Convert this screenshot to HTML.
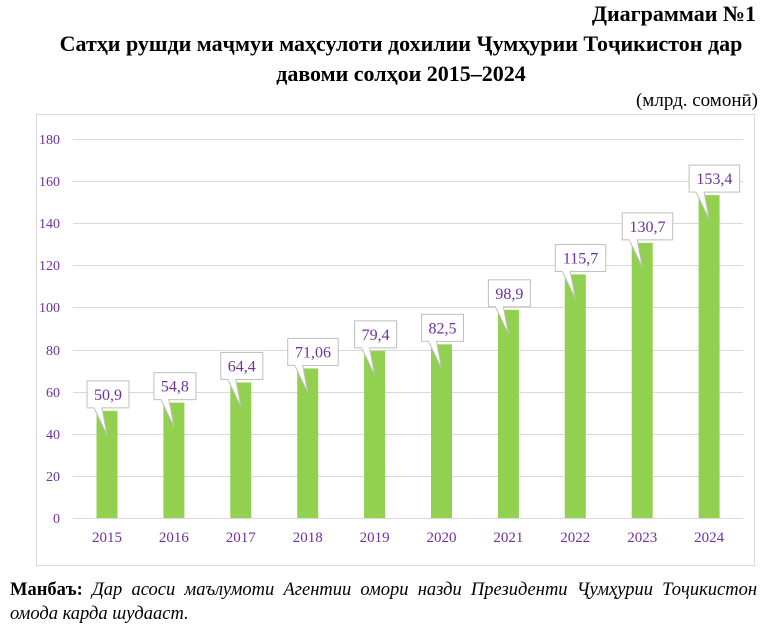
<!DOCTYPE html>
<html><head><meta charset="utf-8"><style>
body{margin:0;width:762px;height:628px;background:#fff;font-family:"Liberation Serif",serif;position:relative;overflow:hidden}
.t{position:absolute;color:#000}
</style></head><body>
<div class="t" style="right:6px;top:1px;font-size:22px;font-weight:bold">Диаграммаи №1</div>
<div class="t" style="left:0;width:802px;text-align:center;top:29px;font-size:22px;font-weight:bold;line-height:30px">Сатҳи рушди маҷмуи маҳсулоти дохилии Ҷумҳурии Тоҷикистон дар<br>давоми солҳои 2015–2024</div>
<div class="t" style="right:4px;top:90px;font-size:19px">(млрд. сомонӣ)</div>
<svg style="position:absolute;left:0;top:0" width="762" height="628">
<rect x="36.5" y="114.5" width="718" height="451" fill="none" stroke="#d9d9d9"/>
<g stroke="#d9d9d9" stroke-width="1">
<line x1="73" x2="743" y1="139.5" y2="139.5"/><line x1="73" x2="743" y1="181.5" y2="181.5"/>
<line x1="73" x2="743" y1="223.5" y2="223.5"/><line x1="73" x2="743" y1="265.5" y2="265.5"/>
<line x1="73" x2="743" y1="307.5" y2="307.5"/><line x1="73" x2="743" y1="350.5" y2="350.5"/>
<line x1="73" x2="743" y1="392.5" y2="392.5"/><line x1="73" x2="743" y1="434.5" y2="434.5"/>
<line x1="73" x2="743" y1="476.5" y2="476.5"/><line x1="73" x2="743" y1="518.5" y2="518.5"/>
</g>
<g font-family="Liberation Serif" font-size="14" fill="#7030a0" text-anchor="end">
<text x="60" y="144">180</text><text x="60" y="186">160</text><text x="60" y="228">140</text>
<text x="60" y="270">120</text><text x="60" y="312">100</text><text x="60" y="355">80</text>
<text x="60" y="397">60</text><text x="60" y="439">40</text><text x="60" y="481">20</text>
<text x="60" y="523">0</text>
</g>
<g id="bars"></g>
</svg>
<script>
var v=[50.9,54.8,64.4,71.06,79.4,82.5,98.9,115.7,130.7,153.4],L=["50,9","54,8","64,4","71,06","79,4","82,5","98,9","115,7","130,7","153,4"];
var s="";
for(var i=0;i<10;i++){var c=107+i*66.9,t=518-v[i]*2.105;
s+='<rect x="'+(c-10.5)+'" y="'+t+'" width="21" height="'+(518-t)+'" fill="#92d050"/>';
var w=L[i].length*8.5+8,bx=c-20,by=t-30;
s+='<polygon points="'+(c-13)+','+(by+27)+' '+(c-5)+','+(by+27)+' '+c+','+(t+24)+'" fill="#fff" stroke="#bfbfbf"/>';
s+='<rect x="'+bx+'" y="'+by+'" width="'+w+'" height="27" fill="#fff" stroke="#bfbfbf"/>';
s+='<rect x="'+(c-12.5)+'" y="'+(by+26)+'" width="7" height="2" fill="#fff"/>';
s+='<text x="'+(bx+w/2)+'" y="'+(by+19)+'" text-anchor="middle" font-family="Liberation Serif" font-size="16" fill="#7030a0">'+L[i]+'</text>';
s+='<text x="'+c+'" y="542" text-anchor="middle" font-family="Liberation Serif" font-size="15" fill="#7030a0">'+(2015+i)+'</text>';}
document.getElementById("bars").innerHTML=s;
</script>
<div class="t" style="left:10px;top:578px;font-size:18.5px;line-height:24px;width:747px;text-align:justify"><b>Манбаъ:</b> <i>Дар асоси маълумоти Агентии омори назди Президенти Ҷумҳурии Тоҷикистон омода карда шудааст.</i></div>
</body></html>
